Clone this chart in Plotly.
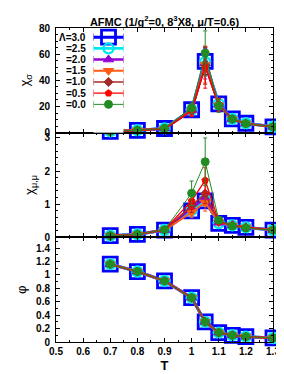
import plotly.graph_objects as go

# ---------------- data ----------------
T = [0.7, 0.8, 0.9, 1.0, 1.05, 1.1, 1.15, 1.2, 1.3]
lambdas = ["3.0", "2.5", "2.0", "1.5", "1.0", "0.5", "0.0"]
legend_labels = ["Λ=3.0", "=2.5", "=2.0", "=1.5", "=1.0", "=0.5", "=0.0"]

# chi_sigma
chis_30 = [1.0, 1.8, 3.2, 17.5, 54.5, 22.0, 10.5, 7.2, 4.5]
chis_25 = [1.0, 1.8, 3.2, 17.5, 54.0, 21.8, 10.5, 7.2, 4.5]
chis_20 = [1.0, 1.8, 3.2, 17.3, 53.0, 21.5, 10.4, 7.1, 4.5]
chis_15 = [1.0, 1.8, 3.1, 17.0, 52.0, 21.0, 10.3, 7.0, 4.4]
chis_10 = [1.0, 1.8, 3.1, 16.8, 51.0, 21.5, 10.3, 7.0, 4.4]
chis_05 = [1.0, 1.7, 3.0, 16.5, 50.0, 21.0, 10.2, 6.9, 4.4]
chis_00 = [1.0, 1.8, 3.3, 18.8, 60.8, 20.5, 10.5, 7.0, 4.4]
chis_err_30 = [0.3, 0.4, 0.6, 3.5, 10, 4.0, 1.5, 1.0, 0.8]
chis_err_25 = [0.3, 0.4, 0.6, 3.5, 11, 4.0, 1.5, 1.0, 0.8]
chis_err_20 = [0.3, 0.4, 0.6, 3.5, 12, 4.0, 1.5, 1.0, 0.8]
chis_err_15 = [0.3, 0.4, 0.6, 4.0, 14, 4.5, 1.5, 1.0, 0.8]
chis_err_10 = [0.3, 0.4, 0.6, 4.0, 14, 5.0, 1.5, 1.0, 0.8]
chis_err_05 = [0.3, 0.4, 0.6, 4.0, 16, 5.0, 1.5, 1.0, 0.8]
chis_err_00 = [0.3, 0.4, 0.7, 4.0, 17, 5.0, 1.5, 1.0, 0.8]

# chi_mu,mu
chim_30 = [0.05, 0.09, 0.22, 0.80, 1.10, 0.42, 0.36, 0.30, 0.22]
chim_25 = [0.05, 0.09, 0.22, 0.82, 1.12, 0.43, 0.36, 0.30, 0.22]
chim_20 = [0.05, 0.09, 0.22, 0.88, 1.18, 0.44, 0.36, 0.30, 0.22]
chim_15 = [0.05, 0.09, 0.22, 0.75, 1.05, 0.46, 0.36, 0.30, 0.22]
chim_10 = [0.05, 0.09, 0.22, 0.95, 1.32, 0.47, 0.37, 0.30, 0.22]
chim_05 = [0.05, 0.09, 0.23, 1.10, 1.72, 0.48, 0.37, 0.30, 0.22]
chim_00 = [0.05, 0.09, 0.23, 1.33, 2.28, 0.52, 0.34, 0.28, 0.22]
chim_err_30 = [0.01, 0.01, 0.02, 0.10, 0.15, 0.05, 0.03, 0.02, 0.02]
chim_err_25 = [0.01, 0.01, 0.02, 0.12, 0.18, 0.05, 0.03, 0.02, 0.02]
chim_err_20 = [0.01, 0.01, 0.02, 0.14, 0.22, 0.05, 0.03, 0.02, 0.02]
chim_err_15 = [0.01, 0.01, 0.02, 0.16, 0.26, 0.06, 0.03, 0.02, 0.02]
chim_err_10 = [0.01, 0.01, 0.02, 0.20, 0.30, 0.06, 0.03, 0.02, 0.02]
chim_err_05 = [0.01, 0.01, 0.03, 0.25, 0.38, 0.07, 0.04, 0.03, 0.02]
chim_err_00 = [0.01, 0.02, 0.03, 0.37, 0.72, 0.08, 0.04, 0.03, 0.02]

# phi
phi_30 = [1.16, 1.05, 0.91, 0.66, 0.30, 0.14, 0.10, 0.08, 0.06]
phi_25 = [1.16, 1.05, 0.91, 0.66, 0.30, 0.14, 0.10, 0.08, 0.06]
phi_20 = [1.16, 1.05, 0.91, 0.66, 0.30, 0.14, 0.10, 0.08, 0.06]
phi_15 = [1.16, 1.05, 0.91, 0.66, 0.30, 0.14, 0.10, 0.08, 0.06]
phi_10 = [1.16, 1.05, 0.91, 0.66, 0.30, 0.14, 0.10, 0.08, 0.06]
phi_05 = [1.16, 1.05, 0.91, 0.66, 0.30, 0.14, 0.10, 0.08, 0.06]
phi_00 = [1.16, 1.05, 0.91, 0.66, 0.30, 0.14, 0.10, 0.08, 0.06]
phi_err = [0.01, 0.01, 0.01, 0.015, 0.02, 0.01, 0.01, 0.01, 0.01]

x_ticks = [0.5, 0.6, 0.7, 0.8, 0.9, 1.0, 1.1, 1.2, 1.3]
x_ticklabels = ["0.5", "0.6", "0.7", "0.8", "0.9", "1", "1.1", "1.2", "1.3"]

# ---------------- styles ----------------
colors = ["#0000ff", "#00e8f0", "#9400d3", "#ff5a14", "#a52a2a", "#ff0000", "#228b22"]
symbols = ["square-open", "circle-open", "triangle-up", "triangle-down", "diamond", "pentagon", "circle"]
msizes = [14, 10, 9, 9, 7, 7, 8]
mlw = [2.8, 2.4, 1, 1, 1, 1, 1]
lws = [3.0, 2.8, 2.4, 2.0, 1.6, 1.4, 1.0]

chis = [chis_30, chis_25, chis_20, chis_15, chis_10, chis_05, chis_00]
chis_err = [chis_err_30, chis_err_25, chis_err_20, chis_err_15, chis_err_10, chis_err_05, chis_err_00]
chim = [chim_30, chim_25, chim_20, chim_15, chim_10, chim_05, chim_00]
chim_err = [chim_err_30, chim_err_25, chim_err_20, chim_err_15, chim_err_10, chim_err_05, chim_err_00]
phis = [phi_30, phi_25, phi_20, phi_15, phi_10, phi_05, phi_00]

FONT = "Liberation Sans"
fig = go.Figure()

panels = [("x", "y", chis, chis_err), ("x2", "y2", chim, chim_err), ("x3", "y3", phis, None)]
for xa, ya, vals, errs in panels:
    for i in range(len(lambdas)):
        err = errs[i] if errs is not None else phi_err
        fig.add_trace(go.Scatter(
            x=T, y=vals[i], xaxis=xa, yaxis=ya, mode="lines+markers",
            line=dict(color=colors[i], width=lws[i]),
            marker=dict(symbol=symbols[i], size=msizes[i], color=colors[i],
                        line=dict(color=colors[i], width=mlw[i])),
            error_y=dict(type="data", array=err, color=colors[i], thickness=1, width=2),
            cliponaxis=False, showlegend=False, hoverinfo="skip"))

# custom gnuplot-style key (text left, sample right) on a hidden overlay axis
row0, row_step = 9.3, 11.4
for i in range(len(lambdas)):
    yy = row0 + row_step * i
    fig.add_trace(go.Scatter(
        x=[0, 1], y=[yy, yy], xaxis="x4", yaxis="y4", mode="lines",
        line=dict(color=colors[i], width=lws[i]), showlegend=False, hoverinfo="skip"))
    fig.add_trace(go.Scatter(
        x=[0, 1], y=[yy, yy], xaxis="x4", yaxis="y4", mode="markers",
        marker=dict(symbol="line-ns", size=5, line=dict(color=colors[i], width=1)),
        showlegend=False, hoverinfo="skip"))
    fig.add_trace(go.Scatter(
        x=[0.5], y=[yy], xaxis="x4", yaxis="y4", mode="markers",
        marker=dict(symbol=symbols[i], size=msizes[i], color=colors[i],
                    line=dict(color=colors[i], width=mlw[i])),
        cliponaxis=False, showlegend=False, hoverinfo="skip"))
    fig.add_annotation(text=legend_labels[i], xref="paper", yref="y4", x=0.148, y=yy,
                       xanchor="right", yanchor="middle", showarrow=False,
                       font=dict(family=FONT, size=10, color="black", weight="bold"))

tickfont = dict(family=FONT, size=10, color="black", weight="bold")
common_x = dict(range=[0.5, 1.3], tickvals=x_ticks, ticktext=x_ticklabels, ticks="inside",
                ticklen=4, tickcolor="black", showline=True, linecolor="black", linewidth=1,
                mirror="allticks", showgrid=False, zeroline=False, tickfont=tickfont,
                ticklabeloverflow="allow",
                minor=dict(dtick=0.05, tick0=0.5, ticks="inside", ticklen=2, tickcolor="black"))
common_y = dict(ticks="inside", ticklen=4, tickcolor="black", showline=True, linecolor="black",
                linewidth=1, mirror="allticks", showgrid=False, zeroline=False, tickfont=tickfont,
                ticklabelstandoff=3, ticklabeloverflow="allow")
minor_y = lambda d: dict(dtick=d, tick0=0, ticks="inside", ticklen=2, tickcolor="black")

third = 1 / 3
fig.update_layout(
    width=284, height=374,
    margin=dict(l=48, r=13, t=20, b=34.5),
    paper_bgcolor="white", plot_bgcolor="white",
    title=dict(text="AFMC (1/g<sup>2</sup>=0, 8<sup>3</sup>X8, μ/T=0.6)", x=0.5, xref="paper",
               y=0.962, yanchor="middle",
               font=dict(family=FONT, size=11, color="black", weight="bold")),
    xaxis=dict(common_x, anchor="y", showticklabels=False),
    xaxis2=dict(common_x, anchor="y2", showticklabels=False),
    xaxis3=dict(common_x, anchor="y3",
                title=dict(text="T", font=dict(family=FONT, size=13, color="black", weight="bold"),
                           standoff=4)),
    yaxis=dict(common_y, domain=[2 * third, 1], range=[0, 80], tickvals=[0, 20, 40, 60, 80],
               minor=minor_y(5),
               title=dict(text="χ<sub>σ</sub>", font=dict(family=FONT, size=13, color="black"),
                          standoff=6)),
    yaxis2=dict(common_y, domain=[third, 2 * third], range=[0, 3.16], tickvals=[0, 1, 2, 3],
                minor=minor_y(0.2),
                title=dict(text="χ<sub>μ,μ</sub>", font=dict(family=FONT, size=13, color="black"),
                           standoff=6)),
    yaxis3=dict(common_y, domain=[0, third], range=[0, 1.56],
                tickvals=[0, 0.2, 0.4, 0.6, 0.8, 1.0, 1.2, 1.4],
                ticktext=["0", "0.2", "0.4", "0.6", "0.8", "1", "1.2", "1.4"],
                minor=minor_y(0.1),
                title=dict(text="φ", font=dict(family=FONT, size=13, color="black"), standoff=6)),
    xaxis4=dict(domain=[0.173, 0.311], range=[0, 1], visible=False, anchor="y4"),
    yaxis4=dict(domain=[2 * third, 1], range=[106.5, 0], visible=False, anchor="x4"),
)

fig.write_html("out.html")
